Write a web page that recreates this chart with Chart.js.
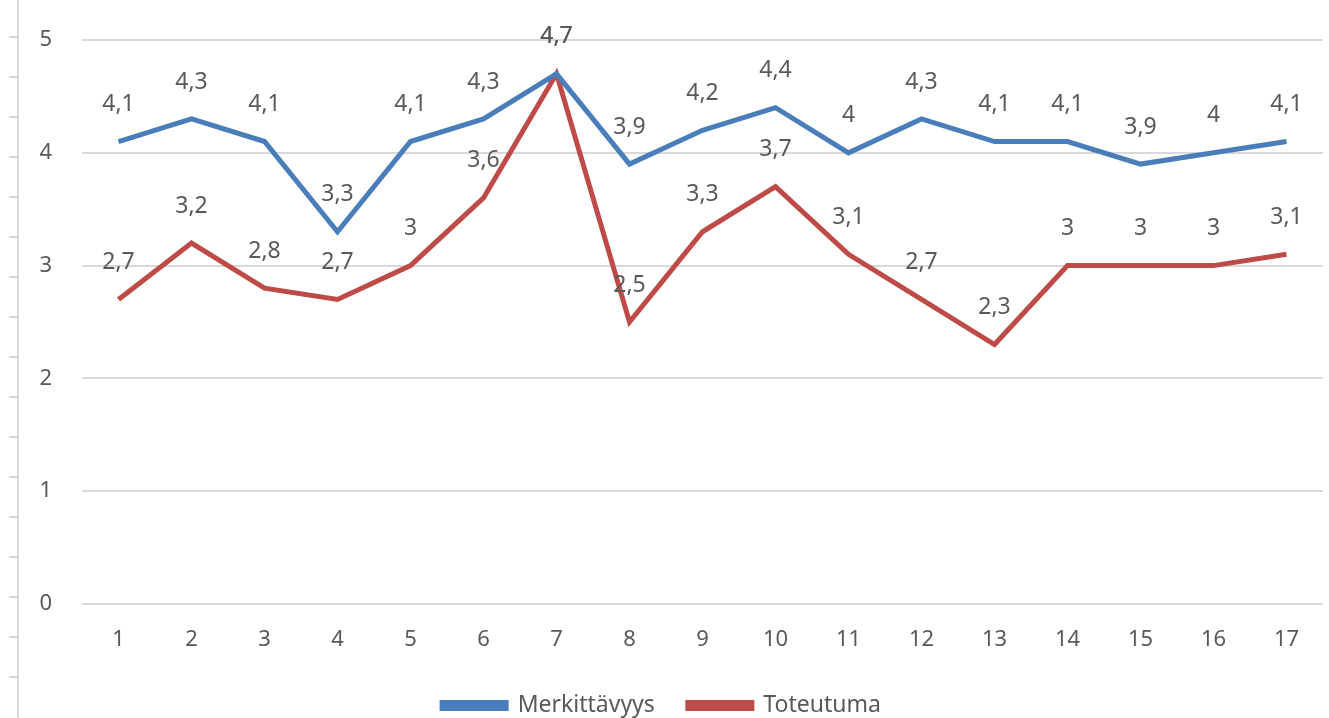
<!DOCTYPE html>
<html lang="fi">
<head>
    <meta charset="UTF-8">
    <title>Merkittävyys ja toteutuma</title>
    <script src="https://cdn.jsdelivr.net/npm/chart.js"></script>
    <style>
        html, body {
            margin: 0;
            padding: 0;
            background: #fff;
        }
        #wrap {
            position: relative;
            width: 1329px;
            height: 718px;
        }
        /* leftover axis edge on the left side of the picture */
        #edge {
            position: absolute;
            left: 9px;
            top: 0;
            width: 8px;
            height: 718px;
            border-right: 2px solid #d9d9d9;
            background: repeating-linear-gradient(to bottom,
                transparent 0px, transparent 38px, #d9d9d9 38px, #d9d9d9 40px);
            background-position: 0 -2px;
        }
        canvas {
            position: absolute;
            left: 0;
            top: 0;
        }
    </style>
</head>
<body>
    <div id="wrap">
        <div id="edge"></div>
        <canvas id="chart" width="1329" height="718"></canvas>
    </div>
    <script>
        const labels = ["1", "2", "3", "4", "5", "6", "7", "8", "9", "10", "11", "12", "13", "14", "15", "16", "17"];
        const merkittavyys = [4.1, 4.3, 4.1, 3.3, 4.1, 4.3, 4.7, 3.9, 4.2, 4.4, 4.0, 4.3, 4.1, 4.1, 3.9, 4.0, 4.1];
        const toteutuma = [2.7, 3.2, 2.8, 2.7, 3.0, 3.6, 4.7, 2.5, 3.3, 3.7, 3.1, 2.7, 2.3, 3.0, 3.0, 3.0, 3.1];

        const fontFamily = "'Noto Sans', 'Open Sans', sans-serif";
        const textColor = "#595959";

        // arvot pisteiden yläpuolelle, pilkku desimaalierottimena
        const valueLabels = {
            id: "valueLabels",
            afterDatasetsDraw(chart) {
                const ctx = chart.ctx;
                ctx.save();
                ctx.font = "23px " + fontFamily;
                ctx.fillStyle = textColor;
                ctx.textAlign = "center";
                ctx.textBaseline = "middle";
                chart.data.datasets.forEach((ds, i) => {
                    chart.getDatasetMeta(i).data.forEach((pt, j) => {
                        const txt = String(ds.data[j]).replace(".", ",");
                        ctx.fillText(txt, pt.x, pt.y - 37);
                    });
                });
                ctx.restore();
            }
        };

        const ctx = document.getElementById("chart").getContext("2d");
        new Chart(ctx, {
            type: "line",
            data: {
                labels: labels,
                datasets: [
                    {
                        label: "Merkittävyys",
                        data: merkittavyys,
                        borderColor: "#4a7ebb",
                        backgroundColor: "#4a7ebb",
                        borderWidth: 5,
                        pointRadius: 0,
                        tension: 0
                    },
                    {
                        label: "Toteutuma",
                        data: toteutuma,
                        borderColor: "#be4b48",
                        backgroundColor: "#be4b48",
                        borderWidth: 5,
                        pointRadius: 0,
                        tension: 0
                    }
                ]
            },
            options: {
                responsive: false,
                animation: false,
                layout: {
                    padding: { top: 40, right: 6, left: 0, bottom: 0 }
                },
                scales: {
                    x: {
                        offset: true,
                        grid: { display: false, drawTicks: false },
                        border: { display: false },
                        ticks: {
                            color: textColor,
                            font: { family: fontFamily, size: 22 },
                            padding: 23,
                            maxRotation: 0
                        },
                        afterFit(scale) {
                            scale.height = 57;
                        }
                    },
                    y: {
                        min: 0,
                        max: 5,
                        grid: { color: "#d9d9d9", lineWidth: 2, drawTicks: false },
                        border: { display: false },
                        ticks: {
                            stepSize: 1,
                            color: textColor,
                            font: { family: fontFamily, size: 22 },
                            padding: 30
                        },
                        afterFit(scale) {
                            scale.width = 82;
                            scale.paddingTop = 0;
                            scale.paddingBottom = 0;
                        }
                    }
                },
                plugins: {
                    legend: {
                        position: "bottom",
                        maxHeight: 57,
                        labels: {
                            color: textColor,
                            font: { family: fontFamily, size: 23 },
                            boxWidth: 64,
                            boxHeight: 6,
                            padding: 33
                        }
                    },
                    tooltip: { enabled: false }
                }
            },
            plugins: [valueLabels]
        });
    </script>
</body>
</html>
